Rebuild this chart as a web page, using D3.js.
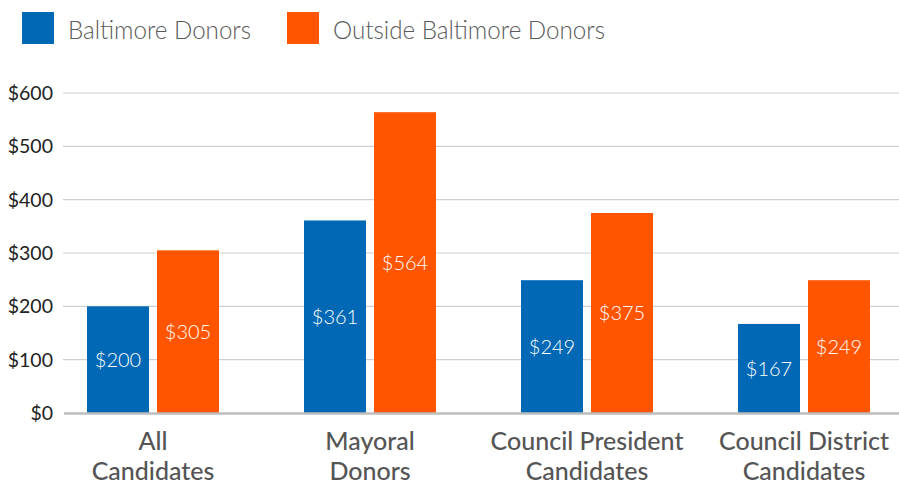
<!DOCTYPE html>
<html>
<head>
<meta charset="utf-8">
<script src="https://cdn.jsdelivr.net/npm/d3@7"></script>
<style>
  body { margin: 0; background: #fff; }
  svg { display: block; font-family: Lato, "Open Sans", sans-serif; }
</style>
</head>
<body>
<svg id="chart" width="899" height="485"></svg>
<script>
var categories = [["All", "Candidates"], ["Mayoral", "Donors"], ["Council President", "Candidates"], ["Council District", "Candidates"]];
var series = ["Baltimore Donors", "Outside Baltimore Donors"];
var baltimore = [200, 361, 249, 167];
var outside = [305, 564, 375, 249];
var yTicks = [0, 100, 200, 300, 400, 500, 600];
var colors = ["#0068b4", "#ff5400"];

var svg = d3.select("#chart");
var keys = categories.map(function(c) { return c.join(" "); });

var y = d3.scaleLinear().domain([0, 600]).range([413, 93]);
var x0 = d3.scaleBand().domain(keys).range([44.5, 912.5]);
var x1 = d3.scaleBand().domain(series).range([-66, 66]).paddingInner(8 / 70);

// gridlines
svg.append("g").selectAll("line")
    .data(yTicks.filter(function(t) { return t > 0; }))
    .enter().append("line")
    .attr("x1", 63).attr("x2", 899)
    .attr("y1", function(d) { return y(d); })
    .attr("y2", function(d) { return y(d); })
    .attr("stroke", "#cfcfcf")
    .attr("stroke-width", 1.2);

// tick labels
svg.append("g").selectAll("text")
    .data(yTicks)
    .enter().append("text")
    .attr("x", 53)
    .attr("y", function(d) { return y(d); })
    .attr("dy", "0.36em")
    .attr("text-anchor", "end")
    .attr("font-size", 19.5)
    .attr("fill", "#222")
    .text(function(d) { return "$" + d; });

var rows = [];
keys.forEach(function(k, i) {
  rows.push({cat: k, s: series[0], v: baltimore[i]});
  rows.push({cat: k, s: series[1], v: outside[i]});
});

var bx = function(d) { return x0(d.cat) + x0.bandwidth() / 2 + x1(d.s); };

svg.append("g").selectAll("rect")
    .data(rows)
    .enter().append("rect")
    .attr("x", bx)
    .attr("y", function(d) { return y(d.v); })
    .attr("width", x1.bandwidth())
    .attr("height", function(d) { return y(0) - y(d.v); })
    .attr("fill", function(d) { return colors[series.indexOf(d.s)]; });

svg.append("g").selectAll("text")
    .data(rows)
    .enter().append("text")
    .attr("x", function(d) { return bx(d) + x1.bandwidth() / 2; })
    .attr("y", function(d) { return (y(d.v) + y(0)) / 2; })
    .attr("dy", "0.36em")
    .attr("text-anchor", "middle")
    .attr("font-size", 20)
    .attr("font-weight", 300)
    .attr("fill", "#fff")
    .text(function(d) { return "$" + d.v; });

// baseline
svg.append("line")
    .attr("x1", 64).attr("x2", 899)
    .attr("y1", y(0) + 0.5).attr("y2", y(0) + 0.5)
    .attr("stroke", "#bdbdbd")
    .attr("stroke-width", 2.5);

// category labels
var cl = svg.append("g").selectAll("text")
    .data(categories)
    .enter().append("text")
    .attr("text-anchor", "middle")
    .attr("font-size", 25)
    .attr("font-weight", 500)
    .attr("fill", "#555");
cl.append("tspan")
    .attr("x", function(d, i) { return x0(keys[i]) + x0.bandwidth() / 2; })
    .attr("y", 450)
    .text(function(d) { return d[0]; });
cl.append("tspan")
    .attr("x", function(d, i) { return x0(keys[i]) + x0.bandwidth() / 2; })
    .attr("y", 480)
    .text(function(d) { return d[1]; });

// legend
var legX = [22, 287];
var legW = [183, 272];
var lg = svg.append("g").selectAll("g")
    .data(series)
    .enter().append("g")
    .attr("transform", function(d, i) { return "translate(" + legX[i] + ",12)"; });
lg.append("rect")
    .attr("width", 32).attr("height", 32)
    .attr("fill", function(d, i) { return colors[i]; });
lg.append("text")
    .attr("x", 46).attr("y", 27)
    .attr("font-size", 26)
    .attr("font-weight", 300)
    .attr("fill", "#5a5a5a")
    .attr("textLength", function(d, i) { return legW[i]; })
    .attr("lengthAdjust", "spacingAndGlyphs")
    .text(function(d) { return d; });
</script>
</body>
</html>
